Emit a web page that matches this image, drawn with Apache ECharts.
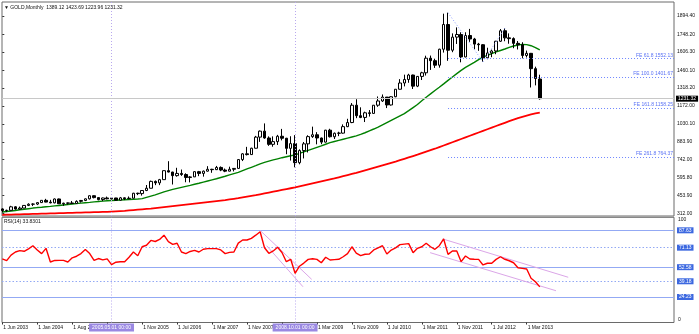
<!DOCTYPE html>
<html>
<head>
<meta charset="utf-8">
<script src="https://cdn.jsdelivr.net/npm/echarts@6/dist/echarts.min.js"></script>
<style>
html,body{margin:0;padding:0;background:#fff;}
#chart{width:699px;height:334px;}
</style>
</head>
<body>
<div id="chart"></div>
<script>
// Monthly gold bars, one entry per bar index (oldest first)
const open = [347,334,336,364,346,354,375,385,386,398,416,402,396,427,388,393,395,391,408,415,428,453,438,422,435,428,435,417,436,429,433,473,470,495,513,568,556,582,654,643,614,632,623,599,604,646,632,650,665,662,680,659,650,665,672,743,789,783,834,923,971,916,865,887,930,914,833,871,718,815,869,927,942,916,883,979,926,954,955,1007,1040,1179,1095,1081,1118,1113,1179,1213,1244,1181,1247,1307,1357,1385,1421,1332,1410,1439,1556,1536,1500,1628,1826,1620,1725,1746,1566,1738,1710,1669,1664,1559,1598,1614,1692,1776,1719,1713,1675,1664,1578,1595,1472,1389.12];
const high = [352,341,372,369,366,376,392,392,399,417,428,420,431,430,397,398,411,416,419,431,456,456,438,438,446,438,436,443,439,447,476,477,497,539,574,575,588,655,730,645,677,663,633,610,649,652,655,690,669,692,688,671,686,675,746,795,845,838,933,976,1033,929,929,941,989,917,930,939,825,884,938,1007,963,919,981,990,960,966,1025,1070,1196,1227,1162,1127,1140,1180,1249,1265,1245,1251,1308,1388,1424,1431,1424,1413,1447,1576,1577,1552,1632,1913,1921,1755,1803,1764,1764,1791,1719,1679,1669,1640,1625,1695,1790,1796,1755,1723,1694,1684,1617,1598,1488,1423.69];
const low = [319,322,335,341,342,352,370,370,378,398,400,392,392,386,372,381,387,391,398,410,423,432,416,410,424,423,413,414,418,425,432,458,454,490,512,538,538,582,640,543,606,612,561,560,603,610,606,647,637,659,650,642,648,648,670,731,776,780,832,885,910,853,846,860,897,786,735,681,705,752,800,917,865,866,880,920,908,931,951,1003,1035,1075,1075,1044,1088,1112,1166,1205,1156,1176,1243,1305,1330,1359,1309,1324,1381,1417,1462,1478,1480,1601,1535,1604,1670,1523,1563,1687,1628,1615,1527,1548,1564,1588,1686,1692,1672,1636,1626,1555,1562,1321,1338,1223.96];
const close = [334,336,364,346,354,375,385,386,398,416,402,396,427,388,393,395,391,408,415,428,453,438,422,435,428,435,417,436,429,433,473,470,495,513,568,556,582,654,643,614,632,623,599,604,646,632,650,665,662,680,659,650,665,672,743,789,783,834,923,971,916,865,887,930,914,833,871,718,815,869,927,942,916,883,979,926,954,955,1007,1040,1179,1095,1081,1118,1113,1179,1213,1244,1181,1247,1307,1357,1385,1421,1332,1410,1439,1556,1536,1500,1628,1826,1620,1725,1746,1566,1738,1710,1669,1664,1559,1598,1614,1692,1776,1719,1713,1675,1664,1578,1595,1472,1393,1231.32];

// Moving averages (fast = green, slow = red)
const maFast = [322,326,331,335,340,344,349,354,358,361,365,368,372,375,379,383,387,391,394,397,400,404,407,410,413,415,417,419,421,423,425,427,430,440,450,460,472,484,494,504,512,520,528,536,545,553,562,571,580,589,599,609,620,630,640,654,668,681,694,708,720,730,740,749,758,766,774,781,792,805,817,829,841,853,866,879,888,897,906,915,924,933,945,958,973,988,1004,1022,1040,1058,1076,1094,1112,1135,1160,1185,1215,1243,1270,1297,1323,1350,1378,1405,1432,1458,1482,1502,1522,1545,1564,1578,1592,1606,1618,1630,1643,1654,1662,1667,1665,1656,1641,1622];
const maSlow = [300,301,302,303,304,305,306,307,308,309,310,311,312,313,314,315,316,317,318,319,320,321,322,323,324,326,328,330,332,335,338,341,344,347,350,354,358,362,366,370,374,378,382,386,390,394,398,402,406,410,414,418,423,428,433,439,445,451,457,464,471,478,485,492,499,506,513,520,528,536,544,552,560,568,576,584,592,601,610,619,628,637,647,657,667,677,687,697,707,717,727,738,749,760,771,782,794,806,818,830,843,856,869,882,895,908,921,934,947,960,973,986,999,1012,1025,1038,1051,1063,1075,1086,1096,1105,1113,1120];

// RSI(14)
const rsi = [60.4,58.8,64,67,68.3,67.7,70,73,69,65.5,70.5,57.5,59,59.1,59.1,57.5,61.5,63,65.5,69.5,65.5,59,60.8,59.5,60.5,55,57.3,57.7,57.8,62,67,63.5,72,73.4,78,77,79,83,76.8,74.2,75.3,67,65.5,67.5,68.5,67,69.6,70.2,70.2,70.2,69,65.5,66.7,67,75.5,78.4,78.4,80,83,86.3,71,65.8,68,71.5,66.5,57.8,60.1,46.8,53.5,56.5,60,60.6,60,56.8,62,59.4,59.8,60.1,62.5,65.5,72,66,63.5,64.9,65.1,69,71,73,65.1,68.9,71,74,74.5,75,66.4,70.5,72,75.3,72,69.6,73,79.4,64.8,68,68,57.8,63.2,60.4,60.1,60,54.7,56.3,56.3,60,62.5,60.1,58.7,56.8,52,51.5,50.9,42,38.8,33.8301];
const rsiLevels = [87.63, 71.13, 52.58, 39.18, 24.23];
const rsiLevelDotted = [false, true, false, true, false];

// Time scale labels and the bars they sit on
const timeLabels = ['1 Jun 2003','1 Jan 2004','1 Aug 2004','1 Mar 2005','1 Nov 2005','1 Jul 2006','1 Mar 2007','1 Nov 2007','1 Jul 2008','1 Mar 2009','1 Nov 2009','1 Jul 2010','1 Mar 2011','1 Nov 2011','1 Jul 2012','1 Mar 2013'];
const timeLabelBars = [0,8,16,24,32,40,48,56,64,72,80,88,96,104,112,120];

// Price scale labels
const priceTicks = [312.00, 453.90, 595.80, 742.00, 883.90, 1030.10, 1172.00, 1318.20, 1460.10, 1606.30, 1748.20, 1894.40];

// Vertical markers
const markerBars = [25, 67];
const markerLabels = ['2005.05.01 00:00', '2008.10.01 00:00'];

// Fibonacci expansion: anchor points A, B, C and the levels
const feAnchors = [[102, 1920.9], [110, 1527.0], [115, 1795.57]];
const feRatios = ['61.8', '100.0', '161.8', '261.8'];
const feValues = [1552.13, 1401.67, 1158.25, 764.37];

// RSI trend channels: [[bar, rsi], [bar, rsi]]
const rsiTrendLines = [
  [[59, 87.5], [70.8, 41]],
  [[60.5, 73], [68.8, 34]],
  [[100.8, 79.4], [129.5, 43]],
  [[97.9, 66.4], [126.7, 30.2]]
];

const symbolName = 'GOLD,Monthly';
const rsiName = 'RSI(14)';

const X_MIN = -0.07, X_MAX = 153.71;
const P_MIN = 290.4, P_MAX = 2006.7;
const FONT = '"Liberation Sans", Arial, sans-serif';
const last = close.length - 1;

const candles = open.map((o, i) => [i, o, close[i], low[i], high[i]]);
const fastLine = maFast.map((v, i) => [i, v]);
const slowLine = maSlow.map((v, i) => [i, v]);
const rsiLine = rsi.map((v, i) => [i, v]);

const smallText = {fontSize: 5, fontFamily: FONT, color: '#111'};

const chart = echarts.init(document.getElementById('chart'));
chart.setOption({
  animation: false,
  backgroundColor: '#fff',
  textStyle: {fontFamily: FONT},
  title: [
    {
      text: '▼ ' + symbolName + '  ' + [open[last], high[last], low[last], close[last]].map(v => v.toFixed(2)).join(' '),
      left: 4, top: 5, padding: 0,
      textStyle: Object.assign({fontWeight: 'normal'}, smallText)
    },
    {
      text: rsiName + ' ' + rsi[last].toFixed(4),
      left: 4, top: 219, padding: 0,
      textStyle: Object.assign({fontWeight: 'normal'}, smallText)
    }
  ],
  grid: [
    {left: 2, top: 2, width: 672, height: 214, show: true, borderColor: '#6a6a6a', borderWidth: 1, backgroundColor: 'transparent'},
    {left: 2, top: 217.3, width: 672, height: 105.2, show: true, borderColor: '#6a6a6a', borderWidth: 1, backgroundColor: 'transparent'}
  ],
  xAxis: [
    {gridIndex: 0, type: 'value', min: X_MIN, max: X_MAX, show: false},
    {
      gridIndex: 1, type: 'value', min: X_MIN, max: X_MAX,
      axisLine: {show: false}, splitLine: {show: false},
      axisTick: {show: true, customValues: timeLabelBars, length: 2, lineStyle: {color: '#333'}},
      axisLabel: {
        customValues: timeLabelBars,
        formatter: v => timeLabels[timeLabelBars.indexOf(Math.round(v))] || '',
        align: 'left', margin: 3, padding: [0, 0, 0, 1],
        fontSize: 5, fontFamily: FONT, color: '#111'
      }
    }
  ],
  yAxis: [
    {
      gridIndex: 0, type: 'value', position: 'right', min: P_MIN, max: P_MAX,
      splitLine: {show: false}, axisLine: {show: false},
      axisTick: {show: true, customValues: priceTicks, length: 2, lineStyle: {color: '#333'}},
      axisLabel: {customValues: priceTicks, formatter: v => v.toFixed(2), margin: 3, fontSize: 5, fontFamily: FONT, color: '#111'}
    },
    {
      gridIndex: 1, type: 'value', position: 'right', min: 0, max: 100,
      splitLine: {show: false}, axisLine: {show: false},
      axisTick: {show: false},
      axisLabel: {customValues: [0, 100], margin: 4, fontSize: 5, fontFamily: FONT, color: '#111',
        verticalAlignMinLabel: 'bottom', verticalAlignMaxLabel: 'top'}
    }
  ],
  series: [
    {
      name: 'markers-main', type: 'line', xAxisIndex: 0, yAxisIndex: 0, data: [], silent: true,
      markLine: {
        silent: true, symbol: ['none', 'none'], animation: false,
        lineStyle: {color: '#b9a9ee', type: [1, 2], width: 1},
        label: {show: false},
        data: markerBars.map(b => ({xAxis: b}))
      }
    },
    {
      name: 'MA slow', type: 'line', xAxisIndex: 0, yAxisIndex: 0, data: slowLine,
      showSymbol: false, smooth: false, lineStyle: {color: '#ff0000', width: 1.8}, z: 3
    },
    {
      name: 'MA fast', type: 'line', xAxisIndex: 0, yAxisIndex: 0, data: fastLine,
      showSymbol: false, lineStyle: {color: '#008000', width: 1.4}, z: 3
    },
    {
      name: symbolName, type: 'candlestick', xAxisIndex: 0, yAxisIndex: 0,
      data: candles, barWidth: 3, z: 4,
      dimensions: ['bar', 'open', 'close', 'lowest', 'highest'],
      encode: {x: 'bar', y: ['open', 'close', 'lowest', 'highest']},
      itemStyle: {color: '#ffffff', color0: '#000000', borderColor: '#000000', borderColor0: '#000000', borderWidth: 1},
      markLine: {
        silent: true, symbol: ['none', 'none'], animation: false,
        data: [
          {
            yAxis: close[last],
            lineStyle: {color: '#c8c8c8', type: 'solid', width: 1},
            label: {show: true, position: 'end', distance: 2, formatter: close[last].toFixed(2),
              backgroundColor: '#000', color: '#fff', padding: [1, 2, 0, 2], fontSize: 5, fontFamily: FONT}
          }
        ].concat(feValues.map((v, k) => [
          {coord: [feAnchors[0][0], v],
           lineStyle: {color: '#6f86ff', type: [1, 2], width: 1},
           label: {show: true, position: 'insideEndTop', distance: 1, formatter: 'FE ' + feRatios[k] + ' ' + v.toFixed(2),
             color: '#5a72f5', fontSize: 5, fontFamily: FONT}},
          {coord: [X_MAX, v]}
        ])).concat([
          [{coord: feAnchors[0], lineStyle: {color: '#8a9cff', type: [1, 2], width: 1}, label: {show: false}}, {coord: feAnchors[1]}],
          [{coord: feAnchors[1], lineStyle: {color: '#8a9cff', type: [1, 2], width: 1}, label: {show: false}}, {coord: feAnchors[2]}]
        ])
      }
    },
    {
      name: 'markers-rsi', type: 'line', xAxisIndex: 1, yAxisIndex: 1, data: [], silent: true,
      markLine: {
        silent: true, symbol: ['none', 'none'], animation: false,
        lineStyle: {color: '#b9a9ee', type: [1, 2], width: 1},
        data: markerBars.map((b, k) => ({
          xAxis: b,
          label: {show: true, position: 'start', distance: 1, formatter: markerLabels[k],
            backgroundColor: '#9a88e2', color: '#fff', padding: [2, 3, 1, 3], fontSize: 5, fontFamily: FONT}
        }))
      }
    },
    {
      name: 'rsi-levels', type: 'line', xAxisIndex: 1, yAxisIndex: 1, data: [], silent: true,
      markLine: {
        silent: true, symbol: ['none', 'none'], animation: false,
        data: rsiLevels.map((v, k) => ({
          yAxis: v,
          lineStyle: {color: '#93a9f4', width: 1, type: rsiLevelDotted[k] ? [1.5, 2] : 'solid'},
          label: {show: true, position: 'end', distance: 3, formatter: v.toFixed(2),
            backgroundColor: '#3c68e0', color: '#fff', padding: [1, 2, 0, 2], fontSize: 5, fontFamily: FONT}
        }))
      }
    },
    {
      name: 'rsi-channels', type: 'line', xAxisIndex: 1, yAxisIndex: 1, data: [], silent: true,
      markLine: {
        silent: true, symbol: ['none', 'none'], animation: false,
        lineStyle: {color: '#dba6e8', width: 1, type: 'solid'},
        label: {show: false},
        data: rsiTrendLines.map(seg => [{coord: seg[0]}, {coord: seg[1]}])
      }
    },
    {
      name: rsiName, type: 'line', xAxisIndex: 1, yAxisIndex: 1, data: rsiLine,
      showSymbol: false, lineStyle: {color: '#ff0000', width: 1.4}, z: 5
    }
  ]
});
</script>
</body>
</html>
